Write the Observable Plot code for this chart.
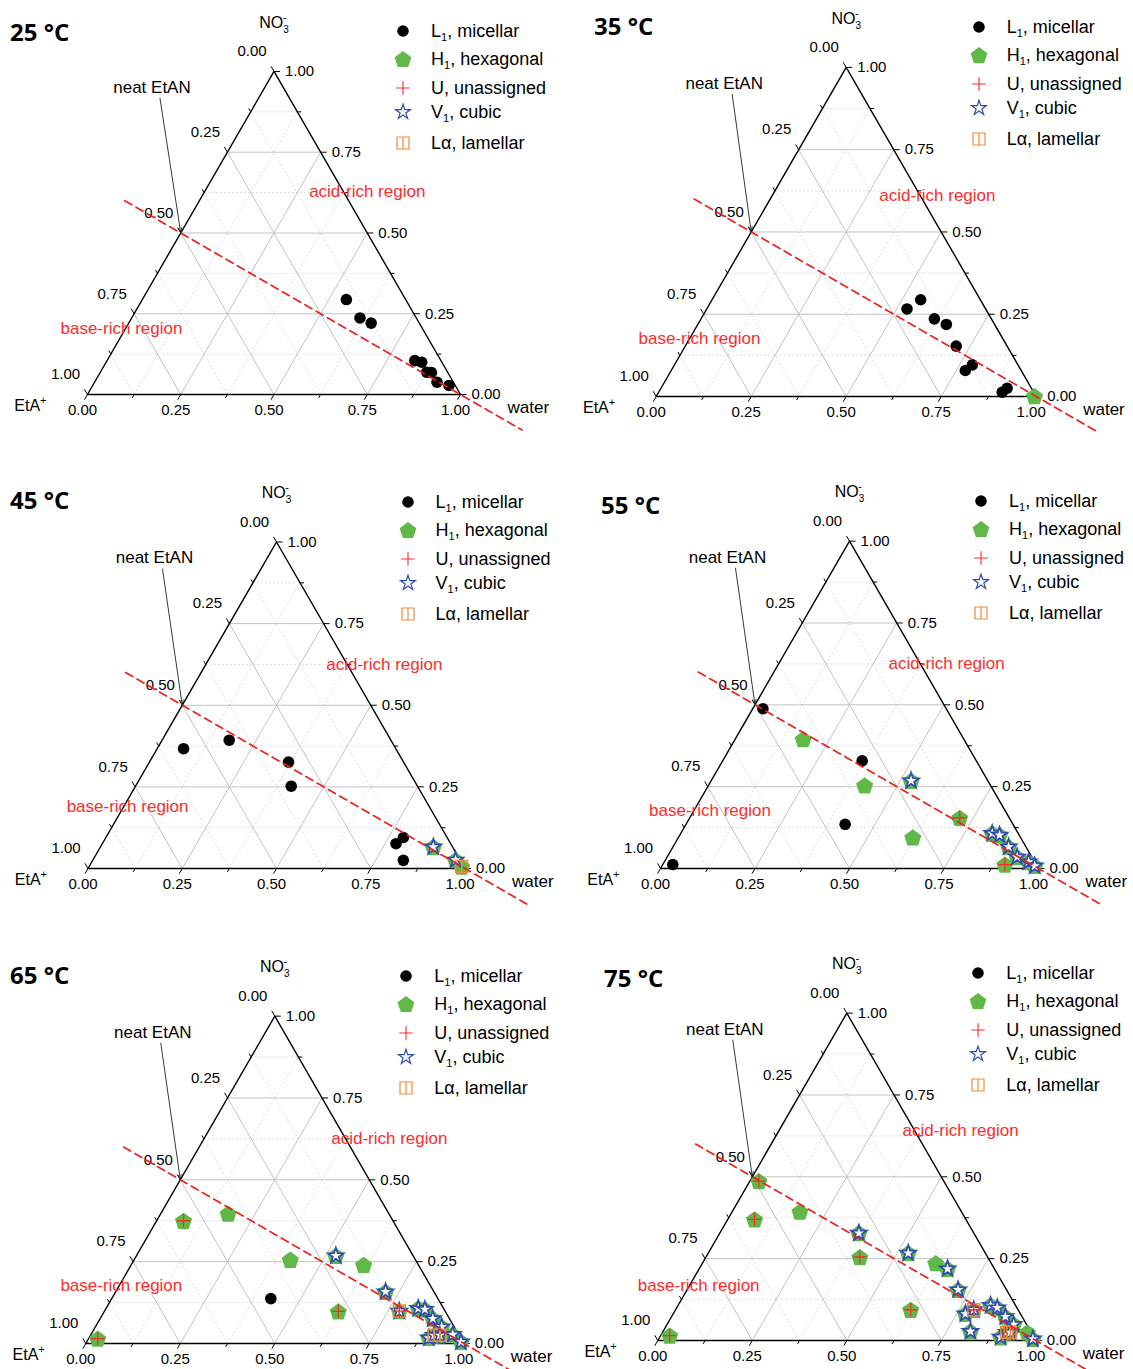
<!DOCTYPE html>
<html><head><meta charset="utf-8">
<script src="https://cdn.jsdelivr.net/npm/d3@7"></script>
<script src="https://cdn.jsdelivr.net/npm/@observablehq/plot@0.6"></script>
<style>
body{margin:0;background:#fff;}
#page{position:relative;width:1133px;height:1369px;overflow:hidden;font-family:"Liberation Sans",Arial,sans-serif;color:#000;}
.title{position:absolute;font-family:"Open Sans",sans-serif;font-weight:700;font-size:24px;line-height:28px;white-space:nowrap;transform:translateY(-50%);}
.legtext{position:absolute;font-size:18px;line-height:22px;white-space:nowrap;transform:translateY(-50%);}
.legtext sub{font-size:11px;vertical-align:-4px;line-height:0;}
.legsym{position:absolute;}
</style></head>
<body><div id="page"></div>
<script>
const S3 = Math.sqrt(3) / 2;

// ---------------- data ----------------
const temperatures = ["25 °C", "35 °C", "45 °C", "55 °C", "65 °C", "75 °C"];
const phaseKeys = ["L1", "H1", "U", "V1", "La"];
const phaseLabels = ["L<sub>1</sub>, micellar", "H<sub>1</sub>, hexagonal", "U, unassigned", "V<sub>1</sub>, cubic", "L\u03B1, lamellar"];
const tickValues = [0, 0.25, 0.5, 0.75, 1];
const tickLabels = ["0.00", "0.25", "0.50", "0.75", "1.00"];
const minorTicks = [0.125, 0.375, 0.625, 0.875];
const majorGridValues = [0.25, 0.5, 0.75];
const minorGridValues = [0.125, 0.375, 0.625, 0.875];
const cornerLabels = {top: "NO3-", left: "EtA+", right: "water"};
const regionLabels = ["acid-rich region", "base-rich region"];
const neatLabel = "neat EtAN";
// boundary EtA+ = NO3- (parameter t = NO3- fraction, water = 1 - 2t)
const boundaryT = [0.6, -0.11];

// samples: [water fraction, NO3- fraction, phases present]
const samples25 = [
  [0.547, 0.294, "L1"], [0.612, 0.237, "L1"], [0.650, 0.221, "L1"], [0.825, 0.105, "L1"],
  [0.846, 0.100, "L1"], [0.875, 0.069, "L1"], [0.888, 0.068, "L1"], [0.918, 0.038, "L1"],
  [0.955, 0.028, "L1"]
];
const samples35 = [
  [0.527, 0.266, "L1"], [0.549, 0.294, "L1"], [0.614, 0.236, "L1"], [0.654, 0.219, "L1"],
  [0.713, 0.153, "L1"], [0.784, 0.096, "L1"], [0.774, 0.079, "L1"], [0.911, 0.025, "L1"],
  [0.904, 0.013, "L1"], [0.995, 0.001, "H1"]
];
const samples45 = [
  [0.070, 0.367, "L1"], [0.178, 0.393, "L1"], [0.369, 0.326, "L1"], [0.413, 0.252, "L1"],
  [0.789, 0.095, "L1"], [0.779, 0.076, "L1"], [0.824, 0.025, "L1"],
  [0.883, 0.066, "H1 V1"], [0.962, 0.026, "H1 V1"], [0.988, 0.006, "H1 La"]
];
const samples55 = [
  [0.027, 0.488, "L1"], [0.369, 0.329, "L1"], [0.421, 0.135, "L1"], [0.0265, 0.012, "L1"],
  [0.180, 0.395, "H1"], [0.413, 0.254, "H1"], [0.620, 0.095, "H1"],
  [0.529, 0.268, "H1 V1"], [0.824, 0.107, "H1 V1"], [0.846, 0.102, "H1 V1"], [0.888, 0.066, "H1 V1"],
  [0.926, 0.035, "H1 V1"], [0.964, 0.020, "H1 V1"], [0.986, 0.008, "H1 V1"],
  [0.714, 0.155, "H1 U"], [0.905, 0.012, "H1 U"]
];
const samples65 = [
  [0.421, 0.137, "L1"], [0.178, 0.397, "H1"], [0.413, 0.256, "H1"], [0.615, 0.240, "H1"],
  [0.024, 0.015, "H1 U"], [0.071, 0.375, "H1 U"], [0.619, 0.098, "H1 U"],
  [0.5275, 0.268, "H1 V1"], [0.714, 0.158, "H1 V1"], [0.826, 0.107, "H1 V1"], [0.845, 0.104, "H1 V1"],
  [0.880, 0.076, "H1 V1"], [0.916, 0.051, "H1 V1"], [0.957, 0.0275, "H1 V1"], [0.899, 0.017, "H1 V1"],
  [0.990, 0.005, "H1 V1"], [0.780, 0.099, "H1 V1 La U"], [0.909, 0.025, "H1 V1 La"], [0.924, 0.025, "H1 V1 La"]
];
const samples75 = [
  [0.024, 0.487, "H1 U"], [0.071, 0.370, "H1 U"], [0.407, 0.255, "H1 U"], [0.622, 0.094, "H1 U"],
  [0.024, 0.015, "H1 U"], [0.179, 0.394, "H1"], [0.617, 0.2365, "H1"], [0.965, 0.025, "H1"],
  [0.368, 0.328, "H1 V1"], [0.529, 0.267, "H1 V1"], [0.657, 0.219, "H1 V1"], [0.717, 0.155, "H1 V1"],
  [0.773, 0.0815, "H1 V1"], [0.827, 0.107, "H1 V1"], [0.848, 0.100, "H1 V1"], [0.883, 0.073, "H1 V1"],
  [0.917, 0.049, "H1 V1"], [0.813, 0.028, "H1 V1"], [0.902, 0.010, "H1 V1"], [0.990, 0.005, "H1 V1"],
  [0.789, 0.094, "H1 V1 La U"], [0.911, 0.025, "H1 V1 La"], [0.920, 0.025, "H1 V1 La"]
];
const samplesByPanel = [samples25, samples35, samples45, samples55, samples65, samples75];

// ---------------- layout (page pixels) ----------------
const frames = [
  {col: 0,   L: 87,    B: 394,    s: 373, title: [10, 32],   acid: [0.750, 0.543], base: [0.091, 0.176]},
  {col: 566, L: 655.7, B: 396,    s: 380, title: [594, 26],  acid: [0.740, 0.529], base: [0.114, 0.153]},
  {col: 0,   L: 87.5,  B: 868,    s: 377, title: [10, 500],  acid: [0.786, 0.541], base: [0.105, 0.164]},
  {col: 566, L: 660,   B: 868.3,  s: 378, title: [601, 505], acid: [0.757, 0.543], base: [0.131, 0.154]},
  {col: 0,   L: 85.3,  B: 1343.3, s: 378, title: [10, 975],  acid: [0.803, 0.543], base: [0.094, 0.154]},
  {col: 566, L: 657.3, B: 1340,   s: 378, title: [604, 978], acid: [0.801, 0.556], base: [0.108, 0.146]}
];
const legendRowOffsets = [0, 28.5, 57.5, 81.5, 112.5];

const GREEN = "#5fb847", BLUE = "#2f4cb0", ORANGE = "#f08a3a", RED = "#ff2b2b";

const symPentagon = {
  draw(ctx, size) {
    const R = Math.sqrt(size / Math.PI);
    for (let k = 0; k < 5; k++) {
      const a = -Math.PI / 2 + k * 2 * Math.PI / 5;
      const x = R * Math.cos(a), y = R * Math.sin(a) + R * 0.1;
      if (k) ctx.lineTo(x, y); else ctx.moveTo(x, y);
    }
    ctx.closePath();
  }
};
const symLamellar = {
  draw(ctx, size) {
    const h = Math.sqrt(size / Math.PI);
    ctx.moveTo(-h, -h); ctx.lineTo(h, -h); ctx.lineTo(h, h); ctx.lineTo(-h, h); ctx.closePath();
    ctx.moveTo(0, -h); ctx.lineTo(0, h);
  }
};
const phaseStyle = {
  H1: {symbol: symPentagon, r: 9, fill: GREEN, stroke: "none"},
  V1: {symbol: "star", r: 4.9, fill: "white", stroke: BLUE, strokeWidth: 1.7},
  La: {symbol: symLamellar, r: 6, fill: "none", stroke: ORANGE, strokeWidth: 1.5},
  U:  {symbol: "plus", r: 4.3, fill: "none", stroke: RED, strokeWidth: 1.3},
  L1: {symbol: "circle", r: 5.8, fill: "black", stroke: "none"}
};
const legendSym = {
  L1: {type: d3.symbolCircle, r: 5.8, fill: "black", stroke: "none", sw: 0},
  H1: {type: symPentagon, r: 8.8, fill: GREEN, stroke: "none", sw: 0},
  U:  {type: d3.symbolPlus, r: 4.4, fill: "none", stroke: RED, sw: 1.1},
  V1: {type: d3.symbolStar, r: 4.7, fill: "white", stroke: BLUE, sw: 1.2},
  La: {type: symLamellar, r: 6, fill: "none", stroke: ORANGE, sw: 1.2}
};
const drawOrder = ["H1", "V1", "La", "U", "L1"];

const page = document.getElementById("page");
const cx = (w, n) => w + n / 2;
const cy = (w, n) => n * S3;

frames.forEach((f, i) => {
  const W = 566, H = 452, base = 395;
  const top = f.B - base;
  const R = f.L + f.s;
  const apexY = f.B - f.s * S3;
  const px = 1 / f.s;
  const data = samplesByPanel[i].map(([w, n, ph]) => ({w, n, ph: ph.split(" ")}));

  const grid = vals => vals.flatMap(k => [
    {a: [0, k], b: [1 - k, k]},
    {a: [k, 0], b: [k, 1 - k]},
    {a: [1 - k, 0], b: [0, 1 - k]}
  ]);
  const gridLink = (arr, opts) => Plot.link(arr, {
    x1: d => cx(...d.a), y1: d => cy(...d.a), x2: d => cx(...d.b), y2: d => cy(...d.b), ...opts
  });
  const seg = (p, d, len) => ({x1: p[0], y1: p[1], x2: p[0] + d[0] * len * px, y2: p[1] + d[1] * len * px});
  const allTicks = [...tickValues.map(v => ({v, len: 6})), ...minorTicks.map(v => ({v, len: 4}))];
  const ticks = [
    ...allTicks.map(t => seg([t.v, 0], [-0.5, -S3], t.len)),
    ...allTicks.map(t => seg([1 - t.v / 2, t.v * S3], [1, 0], t.len)),
    ...allTicks.map(t => seg([(1 - t.v) / 2, (1 - t.v) * S3], [-0.5, S3], t.len))
  ];
  const corners = [[0, 0], [1, 0], [0, 1], [0, 0]];

  const marks = [
    gridLink(grid(minorGridValues), {stroke: "#d6d6d6", strokeWidth: 0.8, strokeDasharray: "2,2"}),
    gridLink(grid(majorGridValues), {stroke: "#c2c2c2", strokeWidth: 1}),
    Plot.line(corners, {x: d => cx(d[0], d[1]), y: d => cy(d[0], d[1]), stroke: "black", strokeWidth: 1.4}),
    Plot.link(ticks, {x1: "x1", y1: "y1", x2: "x2", y2: "y2", stroke: "black", strokeWidth: 1}),
    Plot.text(tickValues, {x: v => v, y: () => 0, text: (v, j) => tickLabels[j], dy: 16, dx: -5, fontSize: 15}),
    Plot.text(tickValues, {x: v => 1 - v / 2, y: v => v * S3, text: (v, j) => tickLabels[j], dx: 11, textAnchor: "start", fontSize: 15}),
    Plot.text(tickValues, {x: v => (1 - v) / 2, y: v => (1 - v) * S3, text: (v, j) => tickLabels[j], dx: -22, dy: -20, fontSize: 15}),
    Plot.text([0], {x: () => 0.5, y: () => S3, text: () => cornerLabels.top, dy: -49, fontSize: 16}),
    Plot.text([0], {x: () => 0, y: () => 0, text: () => cornerLabels.left, dx: -41, dy: 11, textAnchor: "end", fontSize: 16}),
    Plot.text([0], {x: () => 1, y: () => 0, text: () => cornerLabels.right, dx: 47, dy: 13, textAnchor: "start", fontSize: 17}),
    ...drawOrder.map(k => Plot.dot(data.filter(d => d.ph.includes(k)), {
      x: d => cx(d.w, d.n), y: d => cy(d.w, d.n), ...phaseStyle[k]
    })),
    Plot.line(boundaryT, {x: t => cx(1 - 2 * t, t), y: t => cy(1 - 2 * t, t), stroke: "#ee2020", strokeWidth: 1.7, strokeDasharray: "8,5"}),
    Plot.text([f.acid], {x: d => d[0], y: d => d[1], text: () => regionLabels[0], fill: RED, fontSize: 17}),
    Plot.text([f.base], {x: d => d[0], y: d => d[1], text: () => regionLabels[1], fill: RED, fontSize: 17}),
    Plot.text([0], {x: () => 0.5, y: () => S3, text: () => neatLabel, dx: -122, dy: 16, fontSize: 17}),
    Plot.arrow([0], {x1: () => 0.5 - 114 * px, y1: () => S3 - 27 * px, x2: () => 0.25, y2: () => S3 / 2,
      stroke: "#222", strokeWidth: 0.9, headLength: 9, headAngle: 36})
  ];

  const svg = Plot.plot({
    width: W, height: H,
    marginLeft: f.L - f.col,
    marginRight: f.col + W - R,
    marginTop: base - f.s * S3,
    marginBottom: H - base,
    x: {domain: [0, 1], axis: null},
    y: {domain: [0, S3], axis: null},
    style: {fontFamily: "'Liberation Sans', Arial, sans-serif", fontSize: "15px", overflow: "visible", background: "transparent", color: "black"},
    marks
  });
  svg.style.position = "absolute";
  svg.style.left = f.col + "px";
  svg.style.top = top + "px";

  d3.select(svg).selectAll("text").each(function () {
    const t = this.textContent;
    const sel = d3.select(this);
    if (t === "NO3-") {
      sel.text(null);
      sel.append("tspan").text("NO");
      sel.append("tspan").attr("font-size", 10).attr("dy", 5).text("3");
      sel.append("tspan").attr("font-size", 11).attr("dx", -6).attr("dy", -12).text("-");
    } else if (t === "EtA+") {
      sel.text(null);
      sel.append("tspan").text("EtA");
      sel.append("tspan").attr("font-size", 11).attr("dy", -7).text("+");
    }
  });
  page.appendChild(svg);

  // title
  const title = document.createElement("div");
  title.className = "title";
  title.style.left = f.title[0] + "px";
  title.style.top = f.title[1] + "px";
  title.textContent = temperatures[i];
  page.appendChild(title);

  // legend
  const symX = R - 57, textX = R - 29, y0 = apexY - 40;
  phaseKeys.forEach((k, j) => {
    const yy = y0 + legendRowOffsets[j];
    const ls = legendSym[k];
    const sv = d3.create("svg").attr("class", "legsym").attr("width", 24).attr("height", 24)
      .style("left", (symX - 12) + "px").style("top", (yy - 12) + "px");
    sv.append("path").attr("transform", "translate(12,12)")
      .attr("d", d3.symbol(ls.type, Math.PI * ls.r * ls.r)())
      .attr("fill", ls.fill).attr("stroke", ls.stroke).attr("stroke-width", ls.sw);
    page.appendChild(sv.node());
    const tx = document.createElement("div");
    tx.className = "legtext";
    tx.style.left = textX + "px";
    tx.style.top = yy + "px";
    tx.innerHTML = phaseLabels[j];
    page.appendChild(tx);
  });
});
</script></body></html>
